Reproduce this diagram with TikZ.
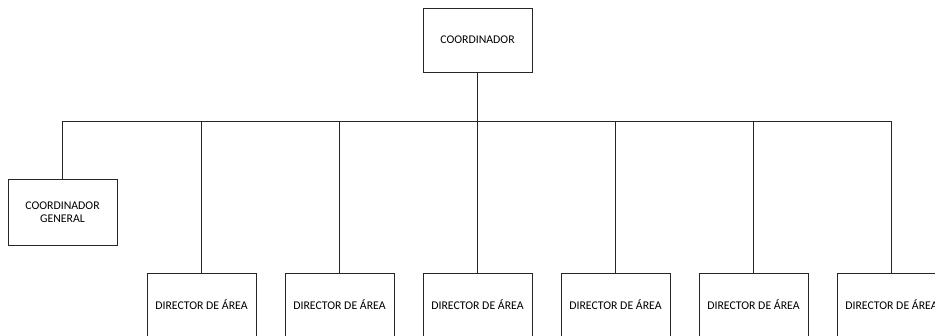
\documentclass[tikz,border=0pt]{standalone}
\usepackage{fontspec}
\setmainfont{Carlito}
\begin{document}
\begin{tikzpicture}[x=1pt,y=-1pt,
  box/.style={draw=black!85,line width=0.9pt,minimum width=109pt,inner sep=0pt,align=center,font=\fontsize{11.8}{12.5}\selectfont},
  link/.style={draw=black!85,line width=0.9pt}]
\useasboundingbox (0,0) rectangle (935,335);
\clip (0,0) rectangle (935,335);
\node[box,minimum height=64pt] (top) at (477.5,40) {COORDINADOR};
\node[box,minimum height=66pt] (cg) at (62.5,212) {COORDINADOR\\GENERAL};
\foreach \i/\x in {1/201.5,2/339.5,3/477.5,4/615.5,5/753.5,6/891.5}{
  \node[box,minimum height=64pt] (d\i) at (\x,305) {DIRECTOR DE ÁREA};
}
\coordinate (bus) at (477.5,121);
\draw[link] (top.south) -- (bus);
\draw[link] (cg.north) |- (d6.north |- bus) -- (d6.north);
\foreach \i in {1,...,5}{
  \draw[link] (d\i.north |- bus) -- (d\i.north);
}
\end{tikzpicture}
\end{document}
